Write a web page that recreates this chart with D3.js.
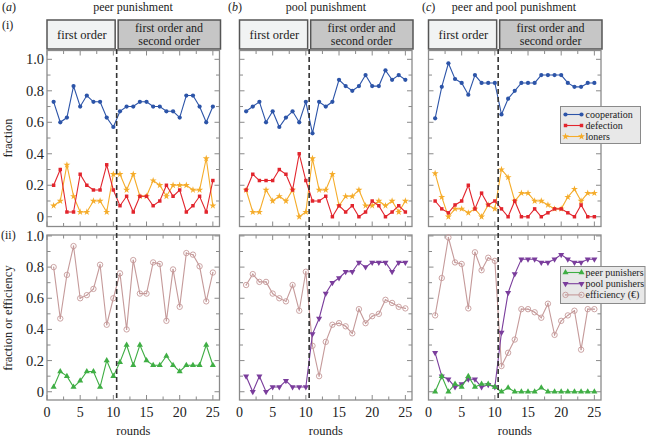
<!DOCTYPE html>
<html><head><meta charset="utf-8">
<script src="https://cdn.jsdelivr.net/npm/d3@7"></script>
<style>body{margin:0;background:#fff}svg{display:block}</style>
</head><body>
<svg id="c" width="670" height="439" font-family="'Liberation Serif', 'Times New Roman', Times, serif"></svg>
<script>
const rounds = d3.range(1, 26);
const panelLetters = ["a", "b", "c"];
const panelTitles = ["peer punishment", "pool punishment", "peer and pool punishment"];
const xTickLabels = [0, 5, 10, 15, 20, 25];
const yTickLabels = [0, 0.2, 0.4, 0.6, 0.8, 1.0];
const switchRound = 10.5;

// (i) fractions
const coopA = [0.73,0.60,0.63,0.83,0.70,0.77,0.73,0.73,0.63,0.57,0.67,0.70,0.70,0.73,0.73,0.70,0.70,0.67,0.67,0.63,0.77,0.77,0.70,0.60,0.70];
const defA  = [0.20,0.30,0.03,0.03,0.27,0.20,0.17,0.17,0.33,0.17,0.07,0.13,0.03,0.13,0.13,0.07,0.10,0.20,0.13,0.17,0.03,0.07,0.13,0.03,0.23];
const lonA  = [0.07,0.10,0.33,0.13,0.03,0.03,0.10,0.10,0.03,0.27,0.27,0.17,0.27,0.13,0.13,0.23,0.20,0.13,0.20,0.20,0.20,0.17,0.17,0.37,0.07];
const coopB = [0.67,0.70,0.73,0.60,0.67,0.57,0.63,0.67,0.60,0.73,0.53,0.73,0.70,0.73,0.87,0.83,0.80,0.83,0.90,0.83,0.83,0.93,0.87,0.90,0.87];
const defB  = [0.17,0.27,0.23,0.23,0.23,0.30,0.27,0.17,0.40,0.23,0.10,0.10,0.13,0.00,0.07,0.03,0.07,0.00,0.03,0.10,0.07,0.00,0.03,0.07,0.03];
const lonB  = [0.17,0.03,0.03,0.17,0.10,0.13,0.10,0.17,0.00,0.03,0.37,0.17,0.17,0.27,0.07,0.13,0.13,0.17,0.07,0.07,0.10,0.07,0.10,0.03,0.10];
const coopC = [0.625,0.825,0.975,0.875,0.85,0.775,0.90,0.85,0.85,0.85,0.65,0.75,0.80,0.85,0.85,0.85,0.90,0.90,0.90,0.90,0.85,0.825,0.825,0.85,0.85];
const defC  = [0.10,0.05,0.025,0.075,0.10,0.20,0.05,0.15,0.075,0.10,0.05,0.00,0.10,0.00,0.00,0.05,0.00,0.025,0.05,0.05,0.025,0.00,0.075,0.00,0.00];
const lonC  = [0.275,0.125,0.00,0.05,0.05,0.025,0.05,0.00,0.075,0.05,0.30,0.25,0.10,0.15,0.15,0.10,0.10,0.075,0.05,0.05,0.125,0.175,0.10,0.15,0.15];

// (ii) punishers and efficiency
const peerA = [0.03,0.13,0.10,0.03,0.07,0.13,0.13,0.03,0.20,0.10,0.19,0.30,0.17,0.30,0.20,0.17,0.17,0.23,0.17,0.13,0.17,0.17,0.17,0.30,0.17];
const effA  = [0.80,0.47,0.75,0.935,0.60,0.62,0.66,0.815,0.43,0.60,0.76,0.40,0.845,0.63,0.63,0.83,0.82,0.455,0.785,0.545,0.89,0.88,0.805,0.58,0.765];
const poolB = [0.10,0.00,0.10,0.00,0.03,0.03,0.07,0.03,0.03,0.03,0.37,0.47,0.63,0.70,0.73,0.77,0.77,0.83,0.80,0.83,0.83,0.83,0.77,0.83,0.83];
const effB  = [0.685,0.755,0.705,0.705,0.63,0.60,0.58,0.685,0.52,0.77,0.295,0.10,0.32,0.43,0.44,0.42,0.375,0.53,0.44,0.485,0.50,0.59,0.57,0.545,0.535];
const peerC = [0.00,0.10,0.00,0.05,0.03,0.10,0.03,0.05,0.05,0.03,0.00,0.025,0.00,0.00,0.00,0.00,0.025,0.00,0.00,0.00,0.00,0.00,0.00,0.00,0.00];
const poolC = [0.25,0.10,0.08,0.03,0.05,0.08,0.08,0.03,0.045,0.03,0.38,0.635,0.755,0.85,0.85,0.85,0.83,0.83,0.85,0.88,0.85,0.83,0.83,0.85,0.85];
const effC  = [0.49,0.73,0.99,0.83,0.82,0.535,0.895,0.78,0.86,0.84,0.165,0.25,0.335,0.53,0.53,0.51,0.475,0.565,0.365,0.455,0.49,0.52,0.27,0.53,0.53];

const legendTop = ["cooperation", "defection", "loners"];
const legendBottom = ["peer punishers", "pool punishers", "efficiency (\u20AC)"];

const styles = {
  cooperation: {color: "#2c54a8", sym: d3.symbolCircle, size: 14, fill: true},
  defection: {color: "#e2252d", sym: d3.symbolSquare, size: 12, fill: true},
  loners: {color: "#f5ac2a", sym: d3.symbolStar, size: 15, fill: true},
  "peer punishers": {color: "#3fae44", sym: d3.symbolTriangle, size: 16, fill: true},
  "pool punishers": {color: "#7a3d9c", sym: "down", size: 16, fill: true},
  "efficiency (\u20AC)": {color: "#c59a9a", sym: d3.symbolCircle, size: 20, fill: false}
};

const topSeries = [
  {cooperation: coopA, defection: defA, loners: lonA},
  {cooperation: coopB, defection: defB, loners: lonB},
  {cooperation: coopC, defection: defC, loners: lonC}
];
const bottomSeries = [
  [["efficiency (\u20AC)", effA], ["peer punishers", peerA]],
  [["efficiency (\u20AC)", effB], ["pool punishers", poolB]],
  [["efficiency (\u20AC)", effC], ["pool punishers", poolC], ["peer punishers", peerC]]
];

const svg = d3.select("#c");
const panelLeft = [47, 239.5, 428.5];
const panelW = 172.5;
const topY = d3.scaleLinear().domain([-0.062, 1.056]).range([226.5, 50.5]);
const botY = d3.scaleLinear().domain([-0.053, 1.006]).range([400, 235]);
const frameCol = "#8a8a8a";
const txtCol = "#222";

function marker(g, name, cx, cy) {
  const s = styles[name];
  if (s.sym === "down") {
    g.append("path").attr("d", d3.symbol(d3.symbolTriangle, s.size)())
      .attr("transform", `translate(${cx},${cy}) rotate(180)`).attr("fill", s.color);
  } else if (!s.fill) {
    g.append("circle").attr("cx", cx).attr("cy", cy).attr("r", 2.7).attr("fill", "#fff").attr("fill-opacity", 0).attr("stroke", s.color).attr("stroke-width", 0.9);
    g.append("circle").attr("cx", cx).attr("cy", cy).attr("r", 0.7).attr("fill", s.color);
  } else {
    g.append("path").attr("d", d3.symbol(s.sym, s.size)())
      .attr("transform", `translate(${cx},${cy})`).attr("fill", s.color);
  }
}

function drawSeries(g, x, y, name, vals) {
  const s = styles[name];
  const line = d3.line().x((d, i) => x(rounds[i])).y(d => y(d));
  g.append("path").datum(vals).attr("d", line).attr("fill", "none").attr("stroke", s.color).attr("stroke-width", 1.1);
  vals.forEach((v, i) => marker(g, name, x(rounds[i]), y(v)));
}

function frameAxes(g, x, y, showY) {
  const [y0, y1] = y.range();
  const [x0, x1] = x.range();
  const tickG = g.append("g").attr("stroke", frameCol).attr("stroke-width", 1);
  d3.range(0, 26.01, 2.5).forEach(t => {
    const len = (t % 5 === 0) ? 5 : 3.5;
    tickG.append("line").attr("x1", x(t)).attr("x2", x(t)).attr("y1", y0).attr("y2", y0 - len);
    tickG.append("line").attr("x1", x(t)).attr("x2", x(t)).attr("y1", y1).attr("y2", y1 + len);
  });
  d3.range(0, 11).forEach(k => {
    const t = k / 10;
    const len = (k % 2 === 0) ? 5 : 3.5;
    tickG.append("line").attr("x1", x0).attr("x2", x0 + len).attr("y1", y(t)).attr("y2", y(t));
    tickG.append("line").attr("x1", x1).attr("x2", x1 - len).attr("y1", y(t)).attr("y2", y(t));
  });
  g.append("rect").attr("x", x0).attr("y", y1).attr("width", x1 - x0).attr("height", y0 - y1)
    .attr("fill", "none").attr("stroke", frameCol).attr("stroke-width", 1.3);
  if (showY) {
    yTickLabels.forEach(t => {
      g.append("text").attr("x", x0 - 3).attr("y", y(t)).attr("dy", "0.35em").attr("text-anchor", "end")
        .attr("fill", txtCol).style("font-size", "14.5px").text(t === 0 ? "0" : d3.format(".1f")(t));
    });
  }
}

panelLetters.forEach((letter, p) => {
  const x = d3.scaleLinear().domain([0, 26]).range([panelLeft[p], panelLeft[p] + panelW]);
  const g = svg.append("g");
  const titleX = [133, 326, 514][p];
  const letterX = [2, 228, 422][p];
  g.append("text").attr("x", letterX).attr("y", 11).attr("fill", txtCol).style("font-size", "12px").html(`(<tspan font-style="italic">${letter}</tspan>)`);
  g.append("text").attr("x", titleX).attr("y", 11).attr("text-anchor", "middle").attr("fill", txtCol).style("font-size", "12px").text(panelTitles[p]);
  const xs = x(switchRound);
  g.append("rect").attr("x", x(0)).attr("y", 20).attr("width", xs - 1.5 - x(0)).attr("height", 29)
    .attr("fill", "#f1f3f3").attr("stroke", "#555").attr("stroke-width", 1.5);
  g.append("rect").attr("x", xs + 1.5).attr("y", 20).attr("width", x(26) + 1 - xs - 1.5).attr("height", 29)
    .attr("fill", "#c6c6c6").attr("stroke", "#555").attr("stroke-width", 1.5);
  g.append("text").attr("x", (x(0) + xs) / 2).attr("y", 39).attr("text-anchor", "middle").attr("fill", txtCol).style("font-size", "12.5px").text("first order");
  g.append("text").attr("x", (xs + x(26)) / 2 + 1).attr("y", 31.5).attr("text-anchor", "middle").attr("fill", txtCol).style("font-size", "12px").text("first order and");
  g.append("text").attr("x", (xs + x(26)) / 2 + 1).attr("y", 45).attr("text-anchor", "middle").attr("fill", txtCol).style("font-size", "12px").text("second order");

  const gt = g.append("g");
  frameAxes(gt, x, topY, p === 0);
  ["loners", "defection", "cooperation"].forEach(name => drawSeries(gt, x, topY, name, topSeries[p][name]));
  const gb = g.append("g");
  frameAxes(gb, x, botY, p === 0);
  bottomSeries[p].forEach(([name, vals]) => drawSeries(gb, x, botY, name, vals));
  xTickLabels.forEach(t => {
    gb.append("text").attr("x", x(t)).attr("y", 416.5).attr("text-anchor", "middle").attr("fill", txtCol).style("font-size", "14px").text(t);
  });
  gb.append("text").attr("x", x(13)).attr("y", 435).attr("text-anchor", "middle").attr("fill", txtCol).style("font-size", "12.5px").text("rounds");

  g.append("line").attr("x1", xs).attr("x2", xs).attr("y1", 49).attr("y2", 400)
    .attr("stroke", "#333").attr("stroke-width", 1.6).attr("stroke-dasharray", "5,3");
});

svg.append("text").attr("x", 2).attr("y", 29).attr("fill", txtCol).style("font-size", "12px").text("(i)");
svg.append("text").attr("x", 1).attr("y", 239).attr("fill", txtCol).style("font-size", "12px").text("(ii)");
svg.append("text").attr("transform", "translate(12,138) rotate(-90)").attr("text-anchor", "middle").attr("fill", txtCol).style("font-size", "12.5px").text("fraction");
svg.append("text").attr("transform", "translate(12,318) rotate(-90)").attr("text-anchor", "middle").attr("fill", txtCol).style("font-size", "12.5px").text("fraction or efficiency");

function legend(items, bx, by, bw, bh, y0, dy) {
  const g = svg.append("g");
  g.append("rect").attr("x", bx).attr("y", by).attr("width", bw).attr("height", bh)
    .attr("fill", "#e8e8e8").attr("stroke", "#8a8a8a").attr("stroke-width", 1);
  items.forEach((name, i) => {
    const yy = y0 + i * dy;
    const s = styles[name];
    g.append("line").attr("x1", bx + 5).attr("x2", bx + 21).attr("y1", yy).attr("y2", yy).attr("stroke", s.color).attr("stroke-width", 1.1);
    marker(g, name, bx + 5, yy);
    marker(g, name, bx + 21, yy);
    g.append("text").attr("x", bx + 25).attr("y", yy).attr("dy", "0.33em").attr("fill", txtCol).style("font-size", "10px").text(name);
  });
}
legend(legendTop, 560.5, 106.5, 80, 37, 114.5, 11);
legend(legendBottom, 560.5, 266.5, 84.5, 37, 272.5, 11.2);
</script>
</body></html>
